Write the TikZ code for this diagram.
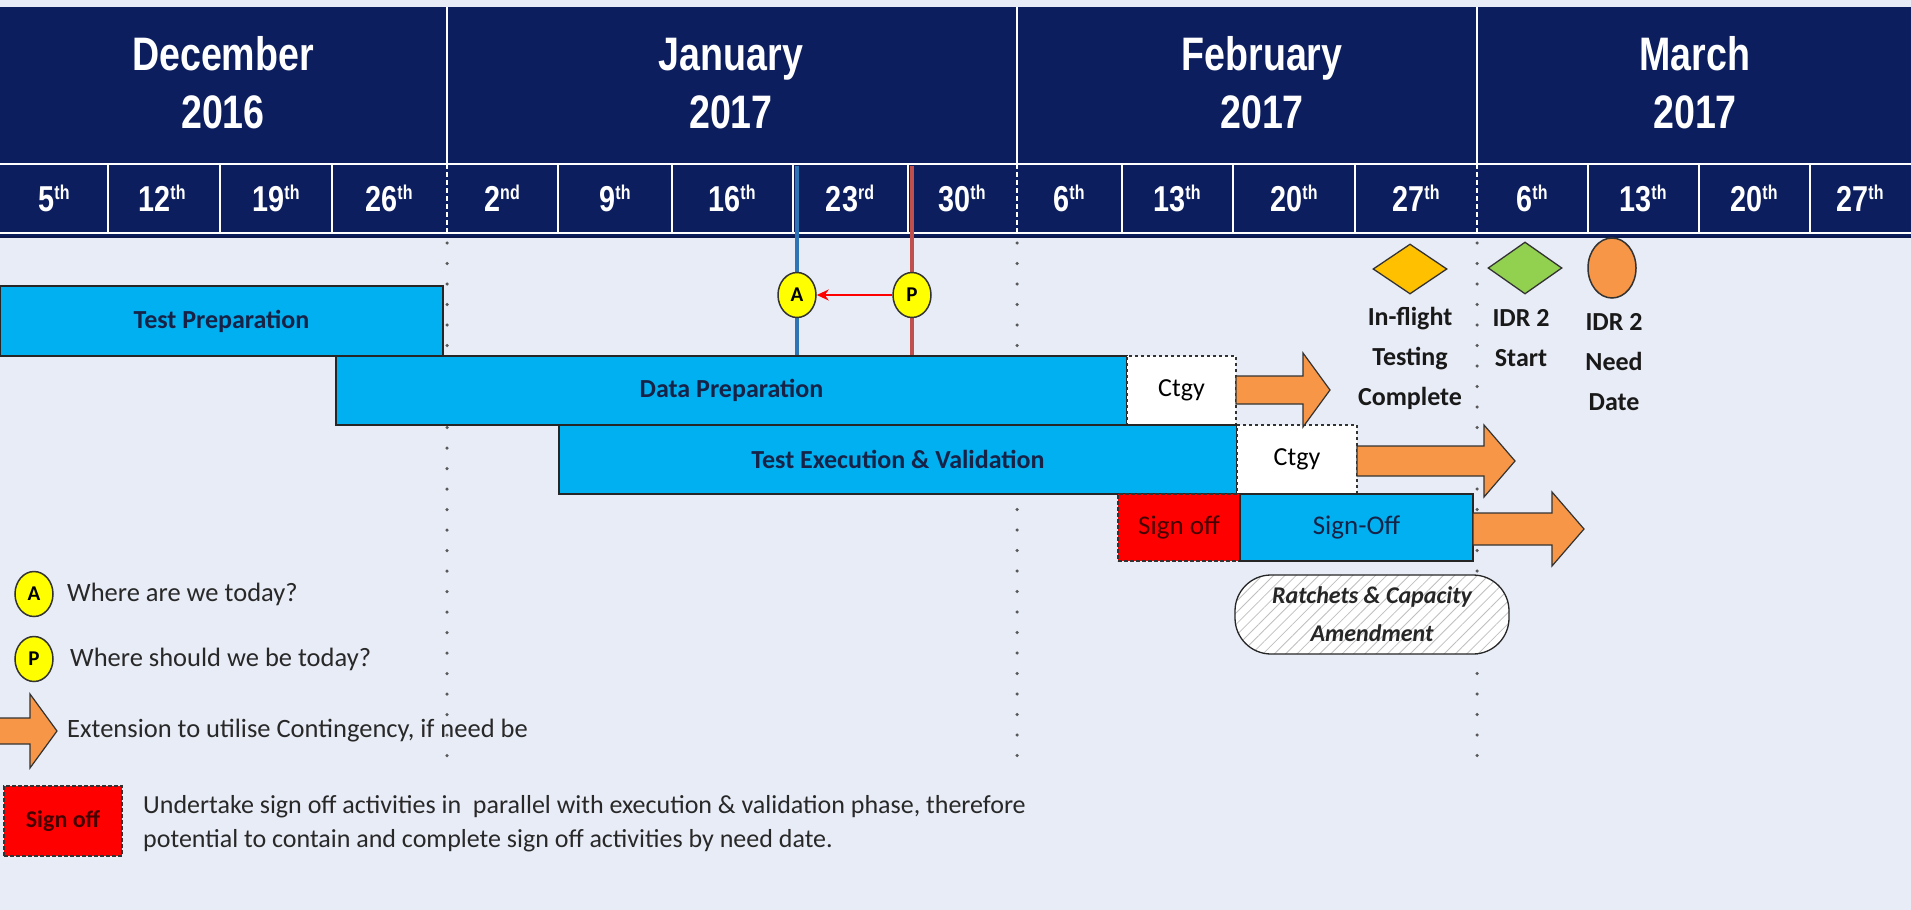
\documentclass[tikz,border=0pt]{standalone}
\usepackage{fontspec}
\setmainfont{Carlito}
\newfontfamily\hdrfont{Liberation Sans}[FakeStretch=0.8]
\usetikzlibrary{shapes.geometric,patterns.meta,arrows.meta}
\definecolor{bgc}{RGB}{232,236,246}
\definecolor{navy}{RGB}{12,30,94}
\definecolor{barblue}{RGB}{0,176,240}
\definecolor{bartxt}{RGB}{22,34,70}
\definecolor{orng}{RGB}{247,150,70}
\definecolor{ylw}{RGB}{255,255,0}
\definecolor{amber}{RGB}{255,192,0}
\definecolor{lgreen}{RGB}{146,208,80}
\definecolor{bluel}{RGB}{46,117,182}
\definecolor{redl}{RGB}{192,80,77}
\definecolor{darkred}{RGB}{70,0,0}
\definecolor{txt}{RGB}{40,40,40}
\newcommand\fsz[2]{\fontsize{#1}{#2}\selectfont}
\newcommand\extarrow[6]{\filldraw[extarr] (#1,{#4-#5}) -- (#2,{#4-#5}) -- (#2,{#4-#6}) -- (#3,#4) -- (#2,{#4+#6}) -- (#2,{#4+#5}) -- (#1,{#4+#5}) -- cycle;}
\begin{document}
\begin{tikzpicture}[x=1pt,y=-1pt,
  monthtxt/.style={anchor=base, text=white, font=\hdrfont\bfseries\fsz{47}{56}, inner sep=0pt},
  wktxt/.style={anchor=base, text=white, font=\hdrfont\bfseries\fsz{36}{40}, inner sep=0pt},
  barbox/.style={rectangle, draw=black!85, line width=1.2pt, fill=barblue, inner sep=0pt, text=bartxt},
  ctgybox/.style={rectangle, draw=black!80, dashed, line width=1.2pt, fill=white, inner sep=0pt, text=black, font=\fsz{26}{30}},
  signbox/.style={rectangle, draw=black!80, dash pattern=on 4pt off 2pt, line width=1.2pt, fill=red, inner sep=0pt, text=darkred},
  extarr/.style={fill=orng, draw=black!80, line width=1.2pt, line join=miter},
  dotline/.style={draw=black!65, line width=3.5pt, line cap=round, dash pattern=on 0pt off 20.5pt},
  marker/.style={ellipse, fill=ylw, draw=black!80, line width=1.5pt, minimum width=38pt, minimum height=45pt, inner sep=0pt, font=\bfseries\fsz{21}{21}},
  mstxt/.style={align=center, text=black!90, font=\bfseries\fsz{26}{40}},
  legtxt/.style={anchor=west, text=txt, font=\fsz{26.5}{34}, inner sep=0pt}
]
\useasboundingbox (0,0) rectangle (1911,910);
\fill[bgc] (0,0) rectangle (1911,910);
% header
\fill[navy] (0,7) rectangle (1911,237);
\draw[white, line width=2.5pt] (0,164) -- (1911,164);
\draw[white, line width=2pt] (0,233) -- (1911,233);
\draw[navy!80!black, line width=1.5pt] (0,237) -- (1911,237);
\foreach \bx in {447,1017,1477} {
  \draw[white, line width=2.5pt] (\bx,7) -- (\bx,164);
  \draw[white, line width=2pt, dash pattern=on 5pt off 3pt] (\bx,164) -- (\bx,233);
}
\foreach \bx in {108,220,332,558,672,793,908,1122,1233,1355,1588,1699,1810}
  \draw[white, line width=2.5pt] (\bx,164) -- (\bx,233);
\node[monthtxt] (m1a) at (223,70) {December};
\node[monthtxt] (m1b) at (223,128) {2016};
\node[monthtxt] (m2a) at (731,70) {January};
\node[monthtxt] (m2b) at (731,128) {2017};
\node[monthtxt] (m3a) at (1262,70) {February};
\node[monthtxt] (m3b) at (1262,128) {2017};
\node[monthtxt] (m4a) at (1695,70) {March};
\node[monthtxt] (m4b) at (1695,128) {2017};
\foreach \cx/\n/\s [count=\i] in {54/5/th,162/12/th,276/19/th,389/26/th,502/2/nd,615/9/th,732/16/th,850/23/rd,962/30/th,1069/6/th,1177/13/th,1294/20/th,1416/27/th,1532/6/th,1643/13/th,1754/20/th,1860/27/th}
  \node[wktxt] (w\i) at (\cx,211) {\n\raisebox{12pt}{\fsz{20}{20}\s}};
% dotted month lines
\foreach \bx in {447,1017,1477}
  \draw[dotline] (\bx,243) -- (\bx,766);
% today lines
\coordinate (btop) at (797,166);
\coordinate (rtop) at (912,166);
% bars
\node[barbox, minimum width=443pt, minimum height=70pt, font=\bfseries\fsz{26}{30}] (tp) at (221.5,321) {Test Preparation};
\node[barbox, minimum width=791pt, minimum height=69pt, font=\bfseries\fsz{26}{30}] (dp) at (731.5,390.5) {Data Preparation};
\node[ctgybox, minimum width=109pt, minimum height=69pt] (c1) at (1181.5,390.5) {Ctgy};
\node[barbox, minimum width=678pt, minimum height=69pt, font=\bfseries\fsz{26}{30}] (te) at (898,459.5) {Test Execution \& Validation};
\node[ctgybox, minimum width=120pt, minimum height=69pt] (c2) at (1297,459.5) {Ctgy};
\node[signbox, minimum width=122pt, minimum height=67pt, font=\fsz{27}{30}] (sr) at (1179,527.5) {Sign off};
\node[barbox, minimum width=233pt, minimum height=67pt, font=\fsz{27}{30}] (sb) at (1356.5,527.5) {Sign-Off};
\draw[bluel, line width=4pt] (btop) -- (btop |- dp.north);
\draw[redl, line width=4pt] (rtop) -- (rtop |- dp.north);
\node[marker] (A) at (797,295) {A};
\node[marker] (P) at (912,295) {P};
\draw[red, line width=2pt, -{Stealth[length=12pt,width=11pt]}] (P.west) -- (A.east);
% extension arrows
\extarrow{1236}{1303}{1330}{390}{14}{37}
\extarrow{1357}{1484}{1515}{461}{15}{36}
\extarrow{1473}{1552}{1584}{529}{16}{37}
% ratchets
\node[rectangle, rounded corners=36pt, draw=black!85, line width=1.3pt, preaction={fill=white}, pattern={Lines[angle=45,distance=8pt,line width=0.8pt]}, pattern color=black!25, minimum width=274pt, minimum height=79pt, align=center, font=\bfseries\itshape\fsz{24}{38}, text=black!85] (rc) at (1372,614.5) {Ratchets \& Capacity\\Amendment};
% milestones
\node[diamond, fill=amber, draw=black!80, line width=1.3pt, minimum width=74pt, minimum height=50pt, inner sep=0pt] (d1) at (1410,269) {};
\node[diamond, fill=lgreen, draw=black!80, line width=1.3pt, minimum width=74pt, minimum height=52pt, inner sep=0pt] (d2) at (1525,268) {};
\node[ellipse, fill=orng, draw=black!80, line width=1.5pt, minimum width=48pt, minimum height=60pt, inner sep=0pt] (o1) at (1612,268) {};
\node[mstxt] (t1) at (1410,358) {In-flight\\Testing\\Complete};
\node[mstxt] (t2) at (1521,338) {IDR 2\\Start};
\node[mstxt] (t3) at (1614,362) {IDR 2\\Need\\Date};
% legend
\node[marker] (LA) at (34,594) {A};
\node[legtxt] (LAt) at (67,594) {Where are we today?};
\node[marker] (LP) at (34,659) {P};
\node[legtxt] (LPt) at (70,659) {Where should we be today?};
\extarrow{-2}{30}{57}{731}{13}{37}
\node[legtxt] (LEt) at (67,731) {Extension to utilise Contingency, if need be};
\node[signbox, minimum width=118pt, minimum height=70pt, font=\bfseries\fsz{24}{28}] (LS) at (63,821) {Sign off};
\node[legtxt, align=left, font=\fsz{26}{34}] (LSt) at (143,824) {Undertake sign off activities in \ parallel with execution \& validation phase, therefore\\potential to contain and complete sign off activities by need date.};
\end{tikzpicture}
\end{document}
